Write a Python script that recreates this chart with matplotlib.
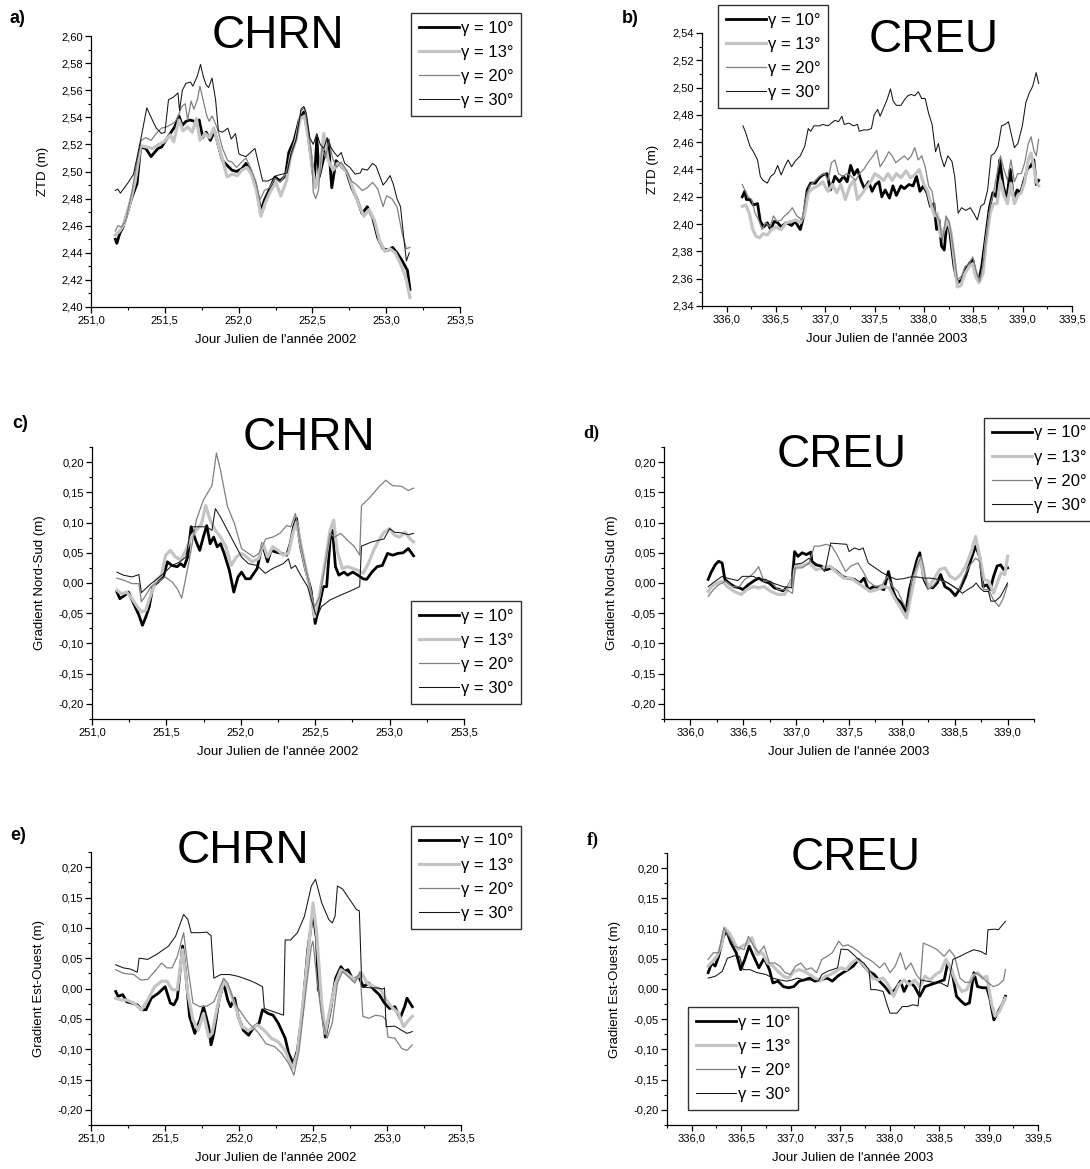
import matplotlib
matplotlib.use('Agg')
import matplotlib.pyplot as plt
from matplotlib.ticker import MultipleLocator, FuncFormatter

plt.rcParams['font.family'] = ['Liberation Sans', 'DejaVu Sans']

# ---------------- data ----------------
gammas = [10, 13, 20, 30]
legend_labels = ['γ = 10°', 'γ = 13°', 'γ = 20°', 'γ = 30°']

# a) CHRN - ZTD (m)
chrn_ztd_x10 = [251.165, 251.175, 251.194, 251.217, 251.253, 251.277, 251.312, 251.336, 251.371, 251.407, 251.430, 251.454, 251.478, 251.501, 251.537, 251.567, 251.596, 251.619, 251.643, 251.671, 251.702, 251.733, 251.757, 251.780, 251.809, 251.837, 251.861, 251.891, 251.927, 251.955, 251.986, 252.021, 252.050, 252.080, 252.116, 252.151, 252.175, 252.210, 252.246, 252.281, 252.317, 252.340, 252.376, 252.411, 252.442, 252.470, 252.494, 252.513, 252.530, 252.546, 252.577, 252.608, 252.631, 252.660, 252.695, 252.730, 252.766, 252.801, 252.837, 252.872, 252.908, 252.943, 252.979, 253.014, 253.043, 253.073, 253.109, 253.144, 253.161]
chrn_ztd_10 = [2.450, 2.447, 2.454, 2.459, 2.472, 2.481, 2.491, 2.518, 2.517, 2.511, 2.514, 2.517, 2.518, 2.522, 2.528, 2.533, 2.541, 2.534, 2.537, 2.538, 2.537, 2.538, 2.525, 2.529, 2.523, 2.530, 2.520, 2.508, 2.504, 2.501, 2.500, 2.502, 2.506, 2.500, 2.490, 2.471, 2.479, 2.487, 2.496, 2.493, 2.497, 2.514, 2.523, 2.538, 2.544, 2.528, 2.508, 2.492, 2.525, 2.496, 2.510, 2.523, 2.488, 2.508, 2.504, 2.500, 2.488, 2.480, 2.469, 2.474, 2.466, 2.451, 2.443, 2.442, 2.444, 2.440, 2.434, 2.427, 2.413]
chrn_ztd_x13 = [251.165, 251.194, 251.222, 251.260, 251.300, 251.336, 251.378, 251.418, 251.459, 251.496, 251.537, 251.560, 251.596, 251.624, 251.655, 251.686, 251.714, 251.738, 251.773, 251.804, 251.832, 251.861, 251.891, 251.922, 251.955, 251.993, 252.021, 252.057, 252.087, 252.121, 252.151, 252.182, 252.215, 252.253, 252.286, 252.324, 252.352, 252.388, 252.418, 252.447, 252.475, 252.499, 252.522, 252.553, 252.577, 252.608, 252.641, 252.671, 252.707, 252.742, 252.778, 252.813, 252.849, 252.884, 252.920, 252.955, 252.991, 253.026, 253.061, 253.097, 253.132, 253.161]
chrn_ztd_13 = [2.453, 2.456, 2.461, 2.475, 2.493, 2.519, 2.518, 2.517, 2.520, 2.522, 2.527, 2.522, 2.538, 2.530, 2.533, 2.529, 2.539, 2.523, 2.528, 2.525, 2.532, 2.520, 2.509, 2.496, 2.498, 2.497, 2.501, 2.503, 2.498, 2.486, 2.467, 2.477, 2.485, 2.492, 2.482, 2.493, 2.511, 2.523, 2.539, 2.541, 2.523, 2.503, 2.488, 2.503, 2.528, 2.508, 2.501, 2.506, 2.503, 2.498, 2.486, 2.476, 2.467, 2.472, 2.464, 2.449, 2.441, 2.443, 2.440, 2.432, 2.422, 2.407]
chrn_ztd_x20 = [251.165, 251.182, 251.206, 251.236, 251.277, 251.312, 251.340, 251.371, 251.407, 251.442, 251.478, 251.513, 251.548, 251.572, 251.591, 251.615, 251.638, 251.655, 251.678, 251.697, 251.721, 251.738, 251.761, 251.785, 251.801, 251.820, 251.856, 251.891, 251.927, 251.955, 251.986, 252.021, 252.050, 252.080, 252.116, 252.144, 252.175, 252.210, 252.246, 252.281, 252.317, 252.352, 252.395, 252.423, 252.447, 252.470, 252.494, 252.506, 252.522, 252.541, 252.565, 252.589, 252.612, 252.636, 252.664, 252.695, 252.730, 252.766, 252.801, 252.837, 252.872, 252.908, 252.943, 252.979, 253.002, 253.038, 253.073, 253.109, 253.137, 253.161]
chrn_ztd_20 = [2.456, 2.460, 2.459, 2.464, 2.485, 2.508, 2.523, 2.525, 2.523, 2.528, 2.532, 2.533, 2.535, 2.537, 2.541, 2.548, 2.550, 2.538, 2.552, 2.546, 2.553, 2.563, 2.552, 2.541, 2.537, 2.541, 2.532, 2.517, 2.508, 2.507, 2.503, 2.507, 2.510, 2.503, 2.493, 2.479, 2.486, 2.488, 2.495, 2.492, 2.498, 2.510, 2.525, 2.545, 2.547, 2.532, 2.513, 2.485, 2.480, 2.486, 2.518, 2.510, 2.524, 2.510, 2.503, 2.507, 2.501, 2.493, 2.490, 2.486, 2.488, 2.492, 2.487, 2.474, 2.482, 2.480, 2.474, 2.454, 2.443, 2.444]
chrn_ztd_x30 = [251.165, 251.182, 251.199, 251.253, 251.288, 251.336, 251.378, 251.407, 251.442, 251.478, 251.501, 251.525, 251.560, 251.589, 251.600, 251.619, 251.643, 251.674, 251.690, 251.719, 251.742, 251.761, 251.780, 251.797, 251.820, 251.844, 251.863, 251.891, 251.927, 251.950, 251.979, 252.002, 252.021, 252.050, 252.080, 252.111, 252.128, 252.163, 252.199, 252.234, 252.258, 252.293, 252.329, 252.357, 252.388, 252.423, 252.442, 252.459, 252.482, 252.506, 252.530, 252.553, 252.577, 252.600, 252.624, 252.648, 252.671, 252.695, 252.719, 252.754, 252.790, 252.825, 252.837, 252.872, 252.908, 252.931, 252.955, 252.979, 253.002, 253.026, 253.050, 253.073, 253.097, 253.121, 253.137, 253.156]
chrn_ztd_30 = [2.486, 2.487, 2.484, 2.492, 2.498, 2.523, 2.547, 2.540, 2.532, 2.528, 2.529, 2.553, 2.555, 2.558, 2.545, 2.560, 2.565, 2.566, 2.563, 2.570, 2.579, 2.570, 2.564, 2.562, 2.569, 2.553, 2.530, 2.529, 2.532, 2.524, 2.528, 2.513, 2.512, 2.511, 2.514, 2.517, 2.509, 2.493, 2.493, 2.495, 2.497, 2.498, 2.499, 2.514, 2.523, 2.546, 2.548, 2.543, 2.525, 2.520, 2.528, 2.520, 2.517, 2.525, 2.518, 2.514, 2.511, 2.514, 2.506, 2.503, 2.498, 2.499, 2.502, 2.501, 2.506, 2.504, 2.497, 2.490, 2.493, 2.497, 2.490, 2.480, 2.474, 2.449, 2.434, 2.440]

# b) CREU - ZTD (m)
creu_ztd_x10 = [336.158, 336.183, 336.200, 336.236, 336.271, 336.313, 336.341, 336.376, 336.412, 336.447, 336.482, 336.517, 336.552, 336.605, 336.658, 336.693, 336.746, 336.781, 336.816, 336.851, 336.897, 336.939, 336.974, 337.017, 337.052, 337.097, 337.143, 337.185, 337.221, 337.256, 337.291, 337.326, 337.361, 337.396, 337.439, 337.474, 337.509, 337.544, 337.572, 337.607, 337.650, 337.685, 337.720, 337.766, 337.801, 337.847, 337.889, 337.924, 337.959, 337.994, 338.030, 338.065, 338.100, 338.128, 338.153, 338.177, 338.205, 338.234, 338.258, 338.304, 338.339, 338.381, 338.416, 338.459, 338.494, 338.522, 338.557, 338.585, 338.620, 338.663, 338.698, 338.733, 338.768, 338.803, 338.839, 338.874, 338.909, 338.944, 338.979, 339.014, 339.050, 339.078, 339.113, 339.138, 339.162]
creu_ztd_10 = [2.420, 2.424, 2.418, 2.418, 2.414, 2.415, 2.402, 2.398, 2.401, 2.396, 2.402, 2.401, 2.398, 2.401, 2.399, 2.402, 2.396, 2.406, 2.425, 2.430, 2.430, 2.434, 2.436, 2.437, 2.425, 2.435, 2.431, 2.435, 2.431, 2.443, 2.436, 2.440, 2.432, 2.426, 2.431, 2.424, 2.429, 2.431, 2.420, 2.425, 2.419, 2.428, 2.421, 2.428, 2.426, 2.429, 2.428, 2.435, 2.424, 2.428, 2.423, 2.413, 2.415, 2.396, 2.403, 2.384, 2.381, 2.403, 2.396, 2.369, 2.357, 2.359, 2.366, 2.371, 2.374, 2.363, 2.359, 2.369, 2.388, 2.412, 2.423, 2.420, 2.447, 2.428, 2.418, 2.440, 2.418, 2.425, 2.423, 2.432, 2.441, 2.442, 2.447, 2.429, 2.432]
creu_ztd_x13 = [336.158, 336.193, 336.229, 336.264, 336.299, 336.334, 336.369, 336.412, 336.454, 336.499, 336.552, 336.605, 336.658, 336.700, 336.746, 336.791, 336.827, 336.869, 336.922, 336.974, 337.027, 337.073, 337.115, 337.157, 337.203, 337.249, 337.291, 337.326, 337.379, 337.425, 337.467, 337.502, 337.544, 337.590, 337.636, 337.678, 337.720, 337.766, 337.818, 337.861, 337.906, 337.952, 337.994, 338.037, 338.072, 338.107, 338.135, 338.170, 338.205, 338.241, 338.276, 338.311, 338.339, 338.374, 338.416, 338.459, 338.494, 338.522, 338.557, 338.599, 338.627, 338.670, 338.705, 338.740, 338.775, 338.810, 338.846, 338.881, 338.916, 338.951, 338.986, 339.021, 339.057, 339.085, 339.113, 339.138, 339.162]
creu_ztd_13 = [2.413, 2.414, 2.408, 2.396, 2.391, 2.390, 2.393, 2.392, 2.396, 2.398, 2.396, 2.401, 2.402, 2.403, 2.401, 2.408, 2.423, 2.426, 2.428, 2.431, 2.424, 2.429, 2.423, 2.429, 2.418, 2.428, 2.432, 2.418, 2.423, 2.428, 2.432, 2.437, 2.435, 2.432, 2.437, 2.432, 2.437, 2.434, 2.439, 2.434, 2.436, 2.440, 2.430, 2.424, 2.414, 2.406, 2.408, 2.391, 2.396, 2.403, 2.393, 2.371, 2.354, 2.355, 2.364, 2.369, 2.371, 2.362, 2.357, 2.364, 2.385, 2.408, 2.415, 2.415, 2.432, 2.421, 2.415, 2.430, 2.415, 2.421, 2.423, 2.431, 2.447, 2.452, 2.442, 2.431, 2.428]
creu_ztd_x20 = [336.158, 336.183, 336.218, 336.253, 336.288, 336.324, 336.359, 336.394, 336.440, 336.475, 336.510, 336.552, 336.587, 336.623, 336.665, 336.711, 336.763, 336.805, 336.841, 336.886, 336.939, 336.992, 337.027, 337.062, 337.097, 337.133, 337.178, 337.221, 337.263, 337.308, 337.344, 337.389, 337.432, 337.484, 337.520, 337.555, 337.600, 337.643, 337.678, 337.713, 337.748, 337.801, 337.836, 337.871, 337.906, 337.942, 337.977, 338.012, 338.047, 338.082, 338.117, 338.153, 338.188, 338.223, 338.258, 338.304, 338.339, 338.381, 338.416, 338.459, 338.494, 338.529, 338.564, 338.599, 338.635, 338.670, 338.705, 338.740, 338.775, 338.810, 338.846, 338.881, 338.916, 338.951, 338.986, 339.021, 339.057, 339.085, 339.113, 339.138, 339.162]
creu_ztd_20 = [2.429, 2.425, 2.420, 2.418, 2.408, 2.403, 2.396, 2.401, 2.398, 2.406, 2.402, 2.403, 2.406, 2.408, 2.412, 2.406, 2.403, 2.420, 2.428, 2.431, 2.435, 2.437, 2.432, 2.445, 2.447, 2.437, 2.435, 2.437, 2.435, 2.432, 2.437, 2.440, 2.445, 2.450, 2.454, 2.442, 2.447, 2.453, 2.450, 2.445, 2.447, 2.450, 2.447, 2.450, 2.456, 2.447, 2.450, 2.442, 2.428, 2.424, 2.408, 2.403, 2.388, 2.406, 2.401, 2.379, 2.359, 2.362, 2.369, 2.371, 2.376, 2.366, 2.358, 2.371, 2.393, 2.413, 2.423, 2.437, 2.450, 2.440, 2.432, 2.447, 2.431, 2.437, 2.437, 2.445, 2.459, 2.464, 2.454, 2.450, 2.462]
creu_ztd_x30 = [336.165, 336.193, 336.236, 336.271, 336.313, 336.341, 336.369, 336.412, 336.447, 336.482, 336.517, 336.552, 336.587, 336.623, 336.658, 336.693, 336.746, 336.791, 336.827, 336.851, 336.886, 336.939, 336.974, 337.027, 337.062, 337.097, 337.133, 337.168, 337.192, 337.238, 337.284, 337.326, 337.344, 337.389, 337.432, 337.467, 337.495, 337.530, 337.555, 337.590, 337.625, 337.660, 337.688, 337.720, 337.766, 337.801, 337.836, 337.871, 337.906, 337.942, 337.977, 338.012, 338.047, 338.082, 338.117, 338.146, 338.170, 338.205, 338.241, 338.283, 338.311, 338.346, 338.381, 338.424, 338.469, 338.504, 338.540, 338.575, 338.610, 338.645, 338.680, 338.715, 338.751, 338.786, 338.821, 338.856, 338.891, 338.916, 338.951, 338.997, 339.032, 339.067, 339.102, 339.137, 339.162]
creu_ztd_30 = [2.472, 2.467, 2.457, 2.453, 2.447, 2.435, 2.432, 2.430, 2.435, 2.437, 2.443, 2.436, 2.442, 2.447, 2.442, 2.446, 2.450, 2.457, 2.470, 2.468, 2.472, 2.472, 2.473, 2.472, 2.474, 2.476, 2.475, 2.479, 2.473, 2.474, 2.472, 2.473, 2.468, 2.469, 2.469, 2.470, 2.480, 2.484, 2.479, 2.485, 2.491, 2.499, 2.490, 2.487, 2.487, 2.491, 2.494, 2.495, 2.494, 2.497, 2.492, 2.492, 2.481, 2.473, 2.453, 2.459, 2.450, 2.442, 2.450, 2.446, 2.435, 2.408, 2.412, 2.410, 2.412, 2.408, 2.403, 2.413, 2.415, 2.425, 2.450, 2.452, 2.457, 2.472, 2.473, 2.475, 2.464, 2.456, 2.459, 2.472, 2.489, 2.496, 2.501, 2.511, 2.503]

# c) CHRN - Gradient Nord-Sud (m)
chrn_ns_x10 = [251.168, 251.187, 251.222, 251.245, 251.280, 251.315, 251.339, 251.362, 251.385, 251.409, 251.444, 251.479, 251.507, 251.537, 251.572, 251.596, 251.619, 251.643, 251.666, 251.696, 251.724, 251.748, 251.771, 251.794, 251.818, 251.841, 251.864, 251.888, 251.923, 251.953, 251.981, 252.005, 252.033, 252.063, 252.110, 252.145, 252.180, 252.203, 252.238, 252.273, 252.308, 252.332, 252.355, 252.374, 252.402, 252.437, 252.472, 252.500, 252.530, 252.554, 252.577, 252.600, 252.617, 252.636, 252.659, 252.694, 252.717, 252.752, 252.787, 252.822, 252.846, 252.881, 252.916, 252.951, 252.986, 253.021, 253.056, 253.091, 253.126, 253.161]
chrn_ns_10 = [-0.015, -0.026, -0.020, -0.015, -0.034, -0.053, -0.070, -0.056, -0.039, -0.006, 0.002, 0.010, 0.035, 0.029, 0.027, 0.032, 0.027, 0.043, 0.093, 0.071, 0.054, 0.076, 0.095, 0.065, 0.076, 0.060, 0.065, 0.049, 0.021, -0.015, 0.010, 0.018, 0.007, 0.007, 0.024, 0.065, 0.035, 0.054, 0.051, 0.049, 0.046, 0.065, 0.093, 0.107, 0.060, 0.021, -0.012, -0.067, -0.034, -0.006, -0.006, 0.071, 0.087, 0.027, 0.013, 0.018, 0.013, 0.018, 0.013, 0.007, 0.006, 0.018, 0.027, 0.029, 0.049, 0.046, 0.049, 0.050, 0.057, 0.045]
chrn_ns_x13 = [251.168, 251.199, 251.234, 251.269, 251.304, 251.332, 251.362, 251.397, 251.432, 251.467, 251.495, 251.526, 251.561, 251.596, 251.631, 251.666, 251.701, 251.736, 251.764, 251.794, 251.829, 251.864, 251.900, 251.935, 251.970, 252.005, 252.040, 252.075, 252.117, 252.150, 252.180, 252.215, 252.250, 252.285, 252.320, 252.350, 252.374, 252.402, 252.449, 252.495, 252.530, 252.565, 252.600, 252.624, 252.647, 252.682, 252.717, 252.752, 252.787, 252.822, 252.857, 252.893, 252.928, 252.963, 253.000, 253.033, 253.068, 253.103, 253.138, 253.161]
chrn_ns_13 = [-0.012, -0.018, -0.015, -0.026, -0.039, -0.048, -0.045, -0.018, 0.005, 0.013, 0.046, 0.054, 0.043, 0.038, 0.054, 0.076, 0.087, 0.098, 0.128, 0.104, 0.087, 0.076, 0.060, 0.029, 0.043, 0.049, 0.043, 0.035, 0.040, 0.065, 0.043, 0.060, 0.054, 0.046, 0.049, 0.082, 0.101, 0.065, 0.010, -0.056, -0.018, 0.032, 0.087, 0.104, 0.054, 0.024, 0.027, 0.024, 0.021, 0.016, 0.032, 0.054, 0.071, 0.084, 0.090, 0.079, 0.076, 0.084, 0.073, 0.068]
chrn_ns_x20 = [251.168, 251.210, 251.269, 251.315, 251.332, 251.362, 251.397, 251.444, 251.491, 251.537, 251.572, 251.603, 251.654, 251.701, 251.748, 251.806, 251.836, 251.864, 251.911, 251.958, 252.005, 252.051, 252.086, 252.121, 252.168, 252.215, 252.262, 252.308, 252.336, 252.367, 252.402, 252.449, 252.495, 252.530, 252.565, 252.600, 252.631, 252.671, 252.729, 252.764, 252.799, 252.811, 252.869, 252.928, 252.974, 253.021, 253.079, 253.126, 253.161]
chrn_ns_20 = [0.008, 0.005, -0.001, -0.001, -0.031, -0.020, -0.006, 0.002, 0.010, 0.002, -0.009, -0.025, 0.038, 0.104, 0.137, 0.161, 0.215, 0.186, 0.126, 0.098, 0.057, 0.049, 0.043, 0.049, 0.073, 0.076, 0.082, 0.095, 0.093, 0.115, 0.065, 0.010, -0.039, -0.023, 0.027, 0.082, 0.076, 0.082, 0.068, 0.060, 0.046, 0.128, 0.142, 0.159, 0.170, 0.161, 0.160, 0.153, 0.157]
chrn_ns_x30 = [251.168, 251.210, 251.269, 251.315, 251.332, 251.362, 251.397, 251.444, 251.491, 251.537, 251.584, 251.631, 251.666, 251.713, 251.771, 251.806, 251.829, 251.864, 251.911, 251.958, 252.005, 252.051, 252.110, 252.164, 252.215, 252.285, 252.320, 252.339, 252.367, 252.402, 252.449, 252.500, 252.514, 252.542, 252.600, 252.671, 252.729, 252.799, 252.811, 252.881, 252.963, 253.000, 253.033, 253.079, 253.126, 253.161]
chrn_ns_30 = [0.018, 0.013, 0.010, 0.014, -0.016, -0.009, -0.001, 0.008, 0.018, 0.029, 0.034, 0.043, 0.093, 0.093, 0.093, 0.087, 0.123, 0.109, 0.087, 0.065, 0.043, 0.032, 0.029, 0.016, 0.024, 0.032, 0.040, 0.024, 0.029, 0.013, -0.006, -0.050, -0.055, -0.039, -0.028, -0.020, -0.014, -0.006, 0.061, 0.068, 0.073, 0.090, 0.084, 0.083, 0.080, 0.082]

# d) CREU - Gradient Nord-Sud (m)
creu_ns_x10 = [336.168, 336.194, 336.234, 336.267, 336.300, 336.326, 336.365, 336.415, 336.464, 336.497, 336.547, 336.596, 336.645, 336.695, 336.744, 336.794, 336.843, 336.876, 336.925, 336.965, 336.985, 337.017, 337.057, 337.096, 337.139, 337.149, 337.188, 337.238, 337.287, 337.337, 337.386, 337.435, 337.485, 337.551, 337.600, 337.643, 337.682, 337.732, 337.781, 337.830, 337.873, 337.913, 337.946, 337.995, 338.038, 338.071, 338.111, 338.144, 338.170, 338.209, 338.242, 338.292, 338.334, 338.367, 338.407, 338.456, 338.506, 338.555, 338.604, 338.654, 338.697, 338.736, 338.769, 338.802, 338.835, 338.868, 338.901, 338.934, 338.964, 339.000]
creu_ns_10 = [0.006, 0.017, 0.030, 0.036, 0.033, 0.006, 0.000, -0.006, -0.008, -0.011, -0.003, 0.003, 0.008, 0.003, 0.000, -0.008, -0.011, -0.013, -0.006, 0.007, 0.052, 0.044, 0.050, 0.047, 0.051, 0.036, 0.030, 0.028, 0.022, 0.025, 0.019, 0.011, 0.008, 0.006, 0.000, 0.008, -0.011, -0.006, -0.008, -0.011, 0.019, -0.011, -0.025, -0.033, -0.047, -0.011, 0.017, 0.039, 0.050, 0.006, -0.006, -0.008, 0.000, 0.014, -0.006, -0.011, -0.021, -0.008, 0.011, 0.039, 0.061, 0.044, -0.006, -0.003, -0.011, 0.011, 0.028, 0.030, 0.022, 0.025]
creu_ns_x13 = [336.168, 336.201, 336.250, 336.300, 336.349, 336.415, 336.481, 336.530, 336.596, 336.645, 336.695, 336.761, 336.827, 336.892, 336.965, 337.000, 337.057, 337.123, 337.188, 337.254, 337.320, 337.386, 337.452, 337.518, 337.584, 337.650, 337.699, 337.765, 337.830, 337.880, 337.930, 337.979, 338.045, 338.084, 338.127, 338.170, 338.209, 338.259, 338.308, 338.357, 338.407, 338.456, 338.506, 338.555, 338.604, 338.654, 338.697, 338.736, 338.776, 338.819, 338.868, 338.901, 338.941, 338.974, 339.000]
creu_ns_13 = [-0.014, -0.006, 0.000, 0.003, -0.006, -0.014, -0.019, -0.011, -0.006, -0.008, -0.006, -0.014, -0.019, -0.019, 0.006, 0.030, 0.028, 0.033, 0.022, 0.025, 0.028, 0.017, 0.008, 0.008, 0.000, -0.008, -0.014, -0.011, -0.006, -0.008, -0.025, -0.039, -0.058, -0.022, 0.014, 0.041, 0.011, -0.006, 0.008, 0.022, 0.025, 0.011, 0.006, 0.014, 0.028, 0.050, 0.077, 0.044, 0.006, 0.003, -0.017, 0.000, 0.017, 0.014, 0.044]
creu_ns_x20 = [336.168, 336.217, 336.267, 336.333, 336.398, 336.464, 336.514, 336.563, 336.612, 336.645, 336.695, 336.761, 336.827, 336.909, 336.965, 336.991, 337.057, 337.123, 337.172, 337.222, 337.281, 337.337, 337.386, 337.435, 337.468, 337.518, 337.584, 337.633, 337.682, 337.748, 337.814, 337.863, 337.913, 337.962, 338.012, 338.051, 338.094, 338.144, 338.183, 338.209, 338.242, 338.292, 338.341, 338.390, 338.440, 338.489, 338.539, 338.588, 338.638, 338.697, 338.736, 338.776, 338.819, 338.868, 338.918, 338.960, 339.000]
creu_ns_20 = [-0.022, -0.011, -0.003, 0.003, -0.006, -0.006, 0.006, 0.011, 0.019, 0.027, 0.003, 0.003, -0.011, -0.011, -0.017, 0.025, 0.025, 0.033, 0.061, 0.061, 0.064, 0.061, 0.047, 0.030, 0.019, 0.028, 0.033, 0.019, 0.003, -0.006, -0.003, 0.011, -0.006, -0.014, -0.033, -0.044, 0.006, 0.028, 0.044, 0.025, -0.011, -0.006, 0.006, 0.003, 0.000, -0.006, -0.011, 0.011, 0.028, 0.041, 0.036, -0.011, -0.011, -0.028, -0.039, -0.025, -0.003]
creu_ns_x30 = [336.168, 336.234, 336.300, 336.349, 336.398, 336.448, 336.491, 336.547, 336.596, 336.645, 336.711, 336.777, 336.827, 336.876, 336.958, 336.965, 337.057, 337.123, 337.172, 337.222, 337.254, 337.271, 337.327, 337.402, 337.478, 337.501, 337.551, 337.600, 337.633, 337.682, 337.748, 337.814, 337.880, 337.946, 338.012, 338.078, 338.144, 338.209, 338.275, 338.341, 338.407, 338.473, 338.532, 338.572, 338.621, 338.671, 338.703, 338.736, 338.776, 338.819, 338.842, 338.885, 338.934, 339.000]
creu_ns_30 = [-0.006, 0.003, 0.011, 0.008, 0.006, 0.004, 0.011, 0.011, 0.011, 0.006, 0.006, 0.000, -0.003, -0.006, -0.008, 0.030, 0.033, 0.041, 0.033, 0.029, 0.022, 0.019, 0.066, 0.065, 0.064, 0.052, 0.058, 0.055, 0.058, 0.033, 0.025, 0.017, 0.011, 0.006, 0.007, 0.010, 0.010, 0.008, 0.008, 0.006, 0.003, -0.004, -0.011, -0.017, -0.011, -0.006, 0.000, -0.008, -0.014, -0.014, -0.030, -0.030, -0.022, 0.000]

# e) CHRN - Gradient Est-Ouest (m)
chrn_eo_x10 = [251.167, 251.183, 251.214, 251.242, 251.278, 251.313, 251.341, 251.372, 251.407, 251.454, 251.501, 251.536, 251.560, 251.583, 251.619, 251.642, 251.666, 251.701, 251.736, 251.760, 251.795, 251.811, 251.830, 251.865, 251.896, 251.924, 251.943, 251.971, 251.995, 252.030, 252.065, 252.101, 252.136, 252.159, 252.195, 252.230, 252.265, 252.312, 252.336, 252.367, 252.395, 252.430, 252.465, 252.500, 252.524, 252.536, 252.548, 252.583, 252.618, 252.653, 252.689, 252.712, 252.736, 252.771, 252.807, 252.841, 252.877, 252.912, 252.947, 252.983, 253.018, 253.053, 253.088, 253.119, 253.135, 253.171]
chrn_eo_10 = [-0.005, -0.013, -0.010, -0.022, -0.024, -0.027, -0.035, -0.035, -0.016, -0.008, 0.003, -0.024, -0.027, -0.016, 0.070, 0.020, -0.046, -0.074, -0.052, -0.030, -0.063, -0.093, -0.074, -0.019, 0.009, -0.019, -0.030, -0.016, -0.046, -0.069, -0.077, -0.063, -0.057, -0.035, -0.041, -0.044, -0.057, -0.082, -0.107, -0.124, -0.102, -0.035, 0.064, 0.125, 0.081, -0.002, -0.008, -0.080, -0.035, 0.017, 0.036, 0.028, 0.031, 0.014, 0.020, 0.003, 0.009, -0.002, -0.010, -0.024, -0.033, -0.030, -0.049, -0.030, -0.016, -0.030]
chrn_eo_x13 = [251.167, 251.207, 251.242, 251.289, 251.341, 251.383, 251.430, 251.477, 251.513, 251.548, 251.583, 251.619, 251.654, 251.689, 251.724, 251.760, 251.795, 251.818, 251.854, 251.896, 251.936, 251.983, 252.018, 252.065, 252.124, 252.171, 252.218, 252.265, 252.312, 252.360, 252.395, 252.442, 252.489, 252.500, 252.524, 252.559, 252.583, 252.618, 252.653, 252.689, 252.736, 252.783, 252.830, 252.865, 252.912, 252.959, 252.994, 253.030, 253.077, 253.112, 253.147, 253.171]
chrn_eo_13 = [-0.016, -0.019, -0.019, -0.024, -0.035, -0.019, 0.003, 0.012, 0.012, -0.002, -0.002, 0.064, -0.008, -0.052, -0.069, -0.041, -0.080, -0.074, -0.030, 0.012, -0.002, -0.035, -0.063, -0.069, -0.060, -0.069, -0.082, -0.088, -0.102, -0.132, -0.107, -0.002, 0.114, 0.141, 0.092, -0.024, -0.074, -0.030, 0.009, 0.031, 0.023, 0.014, 0.025, 0.009, 0.003, -0.002, -0.019, -0.030, -0.041, -0.063, -0.052, -0.046]
chrn_eo_x20 = [251.167, 251.219, 251.289, 251.336, 251.383, 251.430, 251.477, 251.513, 251.548, 251.583, 251.626, 251.654, 251.689, 251.736, 251.783, 251.830, 251.865, 251.896, 251.924, 251.971, 252.018, 252.065, 252.124, 252.183, 252.242, 252.289, 252.336, 252.371, 252.406, 252.453, 252.489, 252.500, 252.524, 252.559, 252.595, 252.630, 252.665, 252.700, 252.736, 252.783, 252.818, 252.837, 252.877, 252.924, 252.971, 252.994, 253.006, 253.053, 253.100, 253.135, 253.171]
chrn_eo_20 = [0.031, 0.025, 0.023, 0.014, 0.015, 0.028, 0.042, 0.034, 0.034, 0.053, 0.092, 0.036, -0.024, -0.030, -0.029, -0.022, -0.002, 0.017, 0.009, -0.024, -0.041, -0.057, -0.071, -0.091, -0.096, -0.107, -0.124, -0.143, -0.102, -0.002, 0.070, 0.078, 0.020, -0.046, -0.082, -0.057, 0.009, 0.028, 0.020, 0.009, 0.028, -0.046, -0.049, -0.044, -0.046, -0.052, -0.080, -0.082, -0.099, -0.102, -0.093]
chrn_eo_x30 = [251.167, 251.219, 251.266, 251.313, 251.325, 251.383, 251.442, 251.489, 251.524, 251.571, 251.626, 251.654, 251.677, 251.736, 251.783, 251.811, 251.830, 251.877, 251.936, 251.995, 252.065, 252.112, 252.159, 252.171, 252.230, 252.301, 252.312, 252.348, 252.395, 252.442, 252.489, 252.517, 252.559, 252.606, 252.630, 252.649, 252.665, 252.700, 252.747, 252.794, 252.813, 252.830, 252.889, 252.936, 252.971, 252.983, 252.994, 253.053, 253.100, 253.135, 253.171]
chrn_eo_30 = [0.039, 0.034, 0.032, 0.027, 0.050, 0.048, 0.056, 0.064, 0.070, 0.086, 0.122, 0.114, 0.092, 0.092, 0.093, 0.087, 0.017, 0.023, 0.023, 0.020, 0.014, 0.009, 0.003, -0.033, -0.038, -0.044, 0.080, 0.080, 0.092, 0.119, 0.169, 0.180, 0.141, 0.114, 0.108, 0.119, 0.169, 0.164, 0.147, 0.130, 0.128, 0.003, 0.001, 0.001, -0.001, 0.001, -0.063, -0.062, -0.069, -0.074, -0.071]

# f) CREU - Gradient Est-Ouest (m)
creu_eo_x10 = [336.166, 336.201, 336.237, 336.272, 336.318, 336.353, 336.396, 336.449, 336.495, 336.537, 336.580, 336.626, 336.679, 336.732, 336.785, 336.820, 336.873, 336.926, 336.979, 337.032, 337.085, 337.138, 337.191, 337.244, 337.297, 337.368, 337.421, 337.474, 337.527, 337.580, 337.633, 337.686, 337.739, 337.792, 337.845, 337.898, 337.951, 338.004, 338.057, 338.110, 338.146, 338.199, 338.252, 338.305, 338.357, 338.411, 338.464, 338.517, 338.552, 338.587, 338.630, 338.676, 338.722, 338.764, 338.807, 338.852, 338.888, 338.941, 338.983, 339.012, 339.054, 339.100, 339.146, 339.171]
creu_eo_10 = [0.027, 0.043, 0.038, 0.054, 0.087, 0.096, 0.076, 0.060, 0.032, 0.049, 0.071, 0.054, 0.035, 0.051, 0.032, 0.010, 0.013, 0.004, 0.002, 0.004, 0.013, 0.015, 0.018, 0.013, 0.015, 0.018, 0.013, 0.021, 0.027, 0.032, 0.038, 0.049, 0.038, 0.029, 0.024, 0.013, 0.004, -0.007, -0.001, 0.013, -0.004, 0.013, 0.004, -0.012, 0.004, 0.007, 0.010, 0.013, 0.015, 0.043, 0.029, -0.012, -0.020, -0.026, -0.023, 0.027, 0.004, 0.002, 0.002, -0.015, -0.051, -0.037, -0.023, -0.012]
creu_eo_x13 = [336.166, 336.212, 336.255, 336.297, 336.332, 336.378, 336.424, 336.467, 336.509, 336.566, 336.608, 336.661, 336.714, 336.767, 336.820, 336.873, 336.926, 336.979, 337.032, 337.085, 337.138, 337.191, 337.244, 337.297, 337.350, 337.403, 337.456, 337.509, 337.562, 337.615, 337.668, 337.721, 337.774, 337.827, 337.880, 337.934, 337.987, 338.040, 338.093, 338.146, 338.199, 338.252, 338.305, 338.357, 338.411, 338.464, 338.517, 338.570, 338.623, 338.676, 338.729, 338.782, 338.835, 338.888, 338.941, 338.983, 339.029, 339.065, 339.111, 339.146, 339.171]
creu_eo_13 = [0.038, 0.046, 0.054, 0.071, 0.101, 0.093, 0.079, 0.065, 0.071, 0.076, 0.085, 0.057, 0.060, 0.043, 0.038, 0.029, 0.021, 0.018, 0.029, 0.032, 0.029, 0.024, 0.018, 0.013, 0.021, 0.024, 0.029, 0.035, 0.032, 0.043, 0.049, 0.043, 0.032, 0.018, 0.015, 0.018, 0.007, -0.012, 0.007, 0.015, 0.007, 0.015, 0.004, 0.021, 0.015, 0.024, 0.029, 0.049, 0.032, 0.010, -0.004, -0.001, 0.021, 0.027, 0.018, 0.021, -0.023, -0.045, -0.037, -0.023, -0.015]
creu_eo_x20 = [336.166, 336.219, 336.272, 336.325, 336.378, 336.431, 336.484, 336.530, 336.573, 336.626, 336.679, 336.732, 336.785, 336.838, 336.891, 336.944, 336.997, 337.050, 337.103, 337.156, 337.209, 337.262, 337.315, 337.368, 337.421, 337.485, 337.527, 337.580, 337.633, 337.686, 337.739, 337.792, 337.845, 337.898, 337.951, 338.004, 338.057, 338.110, 338.163, 338.216, 338.269, 338.312, 338.340, 338.411, 338.481, 338.552, 338.605, 338.658, 338.711, 338.764, 338.817, 338.870, 338.923, 338.976, 339.047, 339.100, 339.153, 339.171]
creu_eo_20 = [0.049, 0.060, 0.060, 0.101, 0.087, 0.071, 0.068, 0.065, 0.087, 0.071, 0.060, 0.071, 0.043, 0.043, 0.038, 0.027, 0.024, 0.038, 0.043, 0.032, 0.035, 0.027, 0.049, 0.054, 0.060, 0.079, 0.071, 0.073, 0.068, 0.062, 0.054, 0.049, 0.043, 0.035, 0.043, 0.027, 0.038, 0.060, 0.032, 0.043, 0.024, 0.015, 0.076, 0.071, 0.065, 0.054, 0.065, 0.054, 0.018, 0.011, 0.011, 0.027, 0.021, 0.013, 0.004, 0.007, 0.015, 0.032]
creu_eo_x30 = [336.166, 336.237, 336.308, 336.361, 336.431, 336.484, 336.520, 336.590, 336.661, 336.749, 336.820, 336.891, 336.961, 337.015, 337.068, 337.138, 337.209, 337.280, 337.315, 337.368, 337.421, 337.474, 337.509, 337.580, 337.615, 337.686, 337.739, 337.792, 337.810, 337.863, 337.934, 337.969, 338.004, 338.075, 338.128, 338.184, 338.234, 338.287, 338.315, 338.375, 338.446, 338.517, 338.587, 338.641, 338.711, 338.782, 338.852, 338.923, 338.976, 338.994, 339.065, 339.100, 339.171]
creu_eo_30 = [0.018, 0.021, 0.029, 0.051, 0.055, 0.054, 0.032, 0.032, 0.027, 0.024, 0.018, 0.015, 0.013, 0.015, 0.018, 0.015, 0.015, 0.013, 0.024, 0.029, 0.032, 0.035, 0.066, 0.065, 0.060, 0.049, 0.043, 0.032, -0.001, -0.001, -0.004, -0.023, -0.040, -0.040, -0.029, -0.029, -0.026, -0.028, 0.015, 0.013, 0.011, 0.010, 0.004, 0.049, 0.054, 0.060, 0.065, 0.062, 0.057, 0.098, 0.099, 0.098, 0.112]

# ---------------- styles / layout ----------------
W, H = 1090, 1169
line_style = {
    10: dict(color='black', lw=2.0),
    13: dict(color='#c4c4c4', lw=2.3),
    20: dict(color='#808080', lw=0.9),
    30: dict(color='#151515', lw=0.75),
}

panels = [
    dict(tag='a)', tag_xy=(10, 23), tag_font='Liberation Sans', box=(91, 36, 460, 307),
         title='CHRN', title_xy=(278, 48), leg_xy=(411, 13),
         xlim=(251.0, 253.5), ylim=(2.40, 2.60), ymaj=0.02, ylabel='ZTD (m)', year='2002',
         series=[(chrn_ztd_x10, chrn_ztd_10), (chrn_ztd_x13, chrn_ztd_13),
                 (chrn_ztd_x20, chrn_ztd_20), (chrn_ztd_x30, chrn_ztd_30)]),
    dict(tag='b)', tag_xy=(622, 23), tag_font='Liberation Sans', box=(702, 33, 1072, 306),
         title='CREU', title_xy=(934, 52), leg_xy=(718, 5),
         xlim=(335.75, 339.5), ylim=(2.34, 2.54), ymaj=0.02, ylabel='ZTD (m)', year='2003',
         series=[(creu_ztd_x10, creu_ztd_10), (creu_ztd_x13, creu_ztd_13),
                 (creu_ztd_x20, creu_ztd_20), (creu_ztd_x30, creu_ztd_30)]),
    dict(tag='c)', tag_xy=(12, 428), tag_font='Liberation Sans', box=(92, 447, 464, 719),
         title='CHRN', title_xy=(309, 450), leg_xy=(411, 601),
         xlim=(251.0, 253.5), ylim=(-0.225, 0.225), ymaj=0.05, ylabel='Gradient Nord-Sud (m)', year='2002',
         series=[(chrn_ns_x10, chrn_ns_10), (chrn_ns_x13, chrn_ns_13),
                 (chrn_ns_x20, chrn_ns_20), (chrn_ns_x30, chrn_ns_30)]),
    dict(tag='d)', tag_xy=(583, 438), tag_font='Liberation Serif', box=(664, 447, 1034, 719),
         title='CREU', title_xy=(842, 467), leg_xy=(984, 418),
         xlim=(335.75, 339.25), ylim=(-0.225, 0.225), ymaj=0.05, ylabel='Gradient Nord-Sud (m)', year='2003',
         series=[(creu_ns_x10, creu_ns_10), (creu_ns_x13, creu_ns_13),
                 (creu_ns_x20, creu_ns_20), (creu_ns_x30, creu_ns_30)]),
    dict(tag='e)', tag_xy=(10, 840), tag_font='Liberation Sans', box=(91, 852, 461, 1125),
         title='CHRN', title_xy=(243, 863), leg_xy=(411, 826),
         xlim=(251.0, 253.5), ylim=(-0.225, 0.225), ymaj=0.05, ylabel='Gradient Est-Ouest (m)', year='2002',
         series=[(chrn_eo_x10, chrn_eo_10), (chrn_eo_x13, chrn_eo_13),
                 (chrn_eo_x20, chrn_eo_20), (chrn_eo_x30, chrn_eo_30)]),
    dict(tag='f)', tag_xy=(587, 845), tag_font='Liberation Serif', box=(667, 853, 1038, 1125),
         title='CREU', title_xy=(856, 870), leg_xy=(688, 1007),
         xlim=(335.75, 339.5), ylim=(-0.225, 0.225), ymaj=0.05, ylabel='Gradient Est-Ouest (m)', year='2003',
         series=[(creu_eo_x10, creu_eo_10), (creu_eo_x13, creu_eo_13),
                 (creu_eo_x20, creu_eo_20), (creu_eo_x30, creu_eo_30)]),
]


def comma(fmt):
    def f(v, pos):
        if abs(v) < 1e-9:
            v = 0.0
        return fmt.format(v).replace('.', ',')
    return FuncFormatter(f)


fig = plt.figure(figsize=(W / 100, H / 100), dpi=100)

for p in panels:
    x0, y0, x1, y1 = p['box']
    ax = fig.add_axes([x0 / W, 1 - y1 / H, (x1 - x0) / W, (y1 - y0) / H])

    handles = []
    for g, (xs, ys) in zip(gammas, p['series']):
        h, = ax.plot(xs, ys, solid_joinstyle='round', **line_style[g])
        handles.append(h)

    ax.set_xlim(*p['xlim'])
    ax.set_ylim(*p['ylim'])
    ax.xaxis.set_major_locator(MultipleLocator(0.5))
    ax.xaxis.set_minor_locator(MultipleLocator(0.25))
    ax.yaxis.set_major_locator(MultipleLocator(p['ymaj']))
    ax.yaxis.set_minor_locator(MultipleLocator(p['ymaj'] / 2))
    ax.xaxis.set_major_formatter(comma('{:.1f}'))
    ax.yaxis.set_major_formatter(comma('{:.2f}'))

    for s in ('top', 'right'):
        ax.spines[s].set_visible(False)
    for s in ('left', 'bottom'):
        ax.spines[s].set_linewidth(0.9)
    ax.tick_params(which='major', direction='out', length=4, width=0.9, labelsize=8, pad=2)
    ax.tick_params(which='minor', direction='out', length=2.5, width=0.8)

    ax.set_xlabel("Jour Julien de l'année " + p['year'], fontsize=9.5, labelpad=6)
    ax.set_ylabel(p['ylabel'], fontsize=9.5, labelpad=9)

    lx, ly = p['leg_xy']
    leg = ax.legend(handles, legend_labels, loc='upper left',
                    bbox_to_anchor=(lx / W, 1 - ly / H), bbox_transform=fig.transFigure,
                    borderaxespad=0, fancybox=False, framealpha=1, edgecolor='#333333',
                    fontsize=12, handlelength=2.4, handletextpad=0.15,
                    labelspacing=0.55, borderpad=0.45)
    leg.get_frame().set_linewidth(1.0)

    tx, ty = p['title_xy']
    fig.text(tx / W, 1 - ty / H, p['title'], ha='center', va='baseline', fontsize=33)
    gx, gy = p['tag_xy']
    fig.text(gx / W, 1 - gy / H, p['tag'], ha='left', va='baseline', fontsize=13,
             fontweight='bold', family=p['tag_font'])

fig.savefig('out.png', dpi=100)
